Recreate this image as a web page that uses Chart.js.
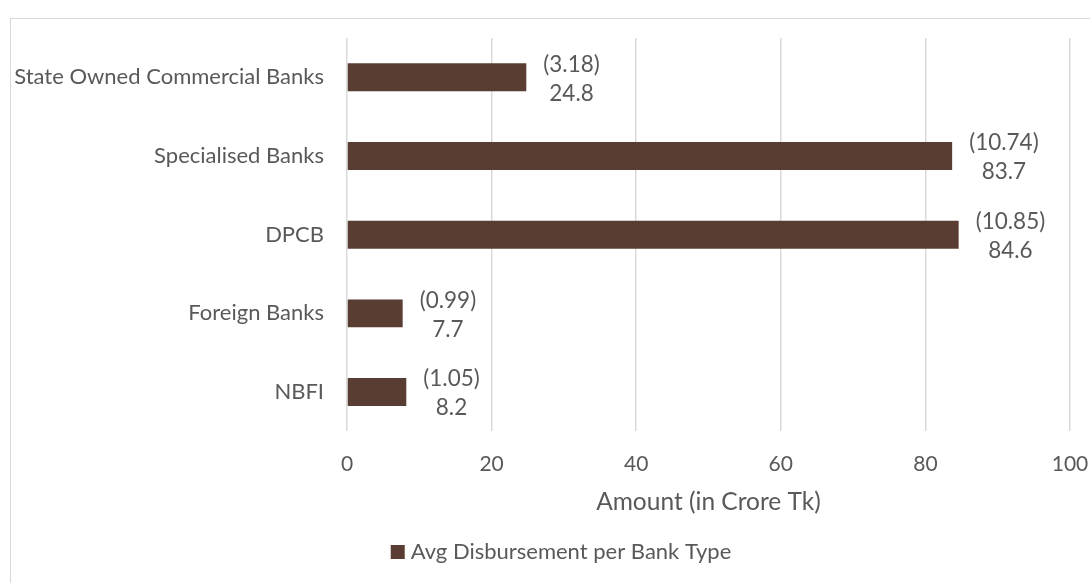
<!DOCTYPE html>
<html>
<head>
<meta charset="utf-8">
<script src="https://cdn.jsdelivr.net/npm/chart.js@4.4.1/dist/chart.umd.min.js"></script>
<style>
  html, body { margin: 0; padding: 0; background: #fff; overflow: hidden; }
  #frame { position: absolute; left: 10px; top: 18px; width: 1200px; height: 700px; border: 1px solid #d9d9d9; }
  #grafico { position: absolute; left: 0; top: 0; }
</style>
</head>
<body>
<div id="frame"></div>
<canvas id="grafico" width="1090" height="583"></canvas>
<script>
const bancos = ["State Owned Commercial Banks", "Specialised Banks", "DPCB", "Foreign Banks", "NBFI"]
const montos = [24.8, 83.7, 84.6, 7.7, 8.2]
const parciales = [3.18, 10.74, 10.85, 0.99, 1.05]
const ticksX = [0, 20, 40, 60, 80, 100]

const gris = "#595959"
const cafe = "#5a3d32"

// etiquetas de dos lineas al final de cada barra
const etiquetas = {
  id: "etiquetas",
  afterDatasetsDraw(chart) {
    const ctx = chart.ctx
    const meta = chart.getDatasetMeta(0)
    ctx.save()
    ctx.font = "22.5px Lato"
    ctx.fillStyle = gris
    ctx.textAlign = "center"
    ctx.textBaseline = "middle"
    meta.data.forEach((barra, i) => {
      const arriba = "(" + parciales[i].toFixed(2) + ")"
      const abajo = montos[i].toFixed(1)
      const ancho = Math.max(ctx.measureText(arriba).width, ctx.measureText(abajo).width)
      const x = barra.x + 17 + ancho / 2
      ctx.fillText(arriba, x, barra.y - 13)
      ctx.fillText(abajo, x, barra.y + 16)
    })
    ctx.restore()
  }
}

// leyenda abajo, centrada bajo el grafico completo
const leyenda = {
  id: "leyenda",
  afterDraw(chart) {
    const ctx = chart.ctx
    const ds = chart.data.datasets[0]
    ctx.save()
    ctx.font = "22px Lato"
    const ancho = 14 + 6 + ctx.measureText(ds.label).width
    const x0 = 561 - ancho / 2
    const y = 552
    ctx.fillStyle = ds.backgroundColor
    ctx.fillRect(x0, y - 7, 14, 14)
    ctx.fillStyle = gris
    ctx.textBaseline = "middle"
    ctx.fillText(ds.label, x0 + 20, y)
    ctx.restore()
  }
}

const ctx = document.getElementById("grafico").getContext("2d")

new Chart(ctx, {
  type: "bar",
  data: {
    labels: bancos,
    datasets: [{
      label: "Avg Disbursement per Bank Type",
      data: montos,
      backgroundColor: cafe,
      borderWidth: 0,
      barPercentage: 0.355,
      categoryPercentage: 1
    }]
  },
  options: {
    indexAxis: "y",
    responsive: false,
    animation: false,
    layout: { padding: { left: 0, right: 0, top: 38, bottom: 52 } },
    plugins: {
      tooltip: { enabled: false },
      legend: { display: false }
    },
    scales: {
      x: {
        min: 0,
        max: 100,
        afterBuildTicks: (scale) => { scale.ticks = ticksX.map(v => ({ value: v })) },
        afterFit: (scale) => { scale.paddingRight = 20 },
        grid: { color: "#d9d9d9", lineWidth: 1.5, drawTicks: false },
        border: { display: false },
        ticks: { color: gris, padding: 20, font: { family: "Lato", size: 21, lineHeight: 1.2 } },
        title: {
          display: true,
          text: "Amount (in Crore Tk)",
          color: gris,
          font: { family: "Lato", size: 24.5, lineHeight: 1.2 },
          padding: { top: -9, bottom: 14 }
        }
      },
      y: {
        afterFit: (scale) => { scale.width = 347 },
        grid: { display: false, drawTicks: false },
        border: { display: false },
        ticks: { color: gris, padding: 23, font: { family: "Lato", size: 22 } }
      }
    }
  },
  plugins: [etiquetas, leyenda]
})
</script>
</body>
</html>
